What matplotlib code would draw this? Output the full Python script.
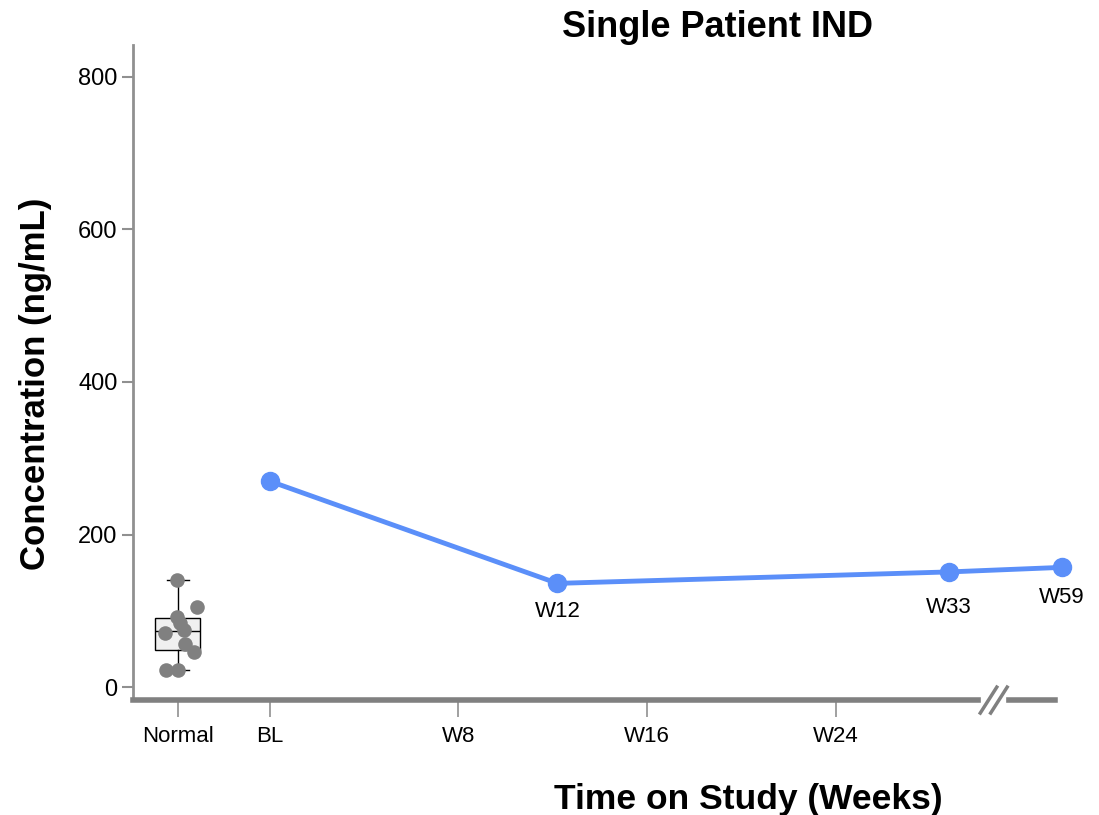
import matplotlib.pyplot as plt
from matplotlib.lines import Line2D

plt.rcParams['font.family'] = ['Liberation Sans', 'DejaVu Sans']

# x positions in "weeks" units (axis is broken after W24)
tick_pos = [-3.9, 0, 8, 16, 24]
tick_labels = ["Normal", "BL", "W8", "W16", "W24"]

visit_pos = [0, 12.2, 28.8, 33.6]
visit_labels = ["BL", "W12", "W33", "W59"]
visit_conc = [270, 136, 151, 157]
label_drop = [0, 13, 18, 14]  # points below marker

normal_vals = [140, 105, 92, 84, 75, 71, 56, 46, 23, 23]
normal_jit = [-0.05, 0.8, -0.05, 0.1, 0.25, -0.55, 0.3, 0.7, -0.5, 0.0]

fig = plt.figure(figsize=(10.99, 8.15), dpi=100)
ax = fig.add_axes([0.121, 0.141, 0.839, 0.804])

# normal range box
ax.boxplot([normal_vals], positions=[-3.9], widths=1.9, patch_artist=True,
           whis=(0, 100), showfliers=False,
           boxprops=dict(facecolor='#f0f0f0', edgecolor='black', linewidth=1),
           medianprops=dict(color='black', linewidth=1),
           whiskerprops=dict(color='black', linewidth=1),
           capprops=dict(color='black', linewidth=1), zorder=2)
ax.scatter([-3.9 + j for j in normal_jit], normal_vals, s=110, color='#808080',
           zorder=3, linewidths=0)

# patient line
ax.plot(visit_pos, visit_conc, color='#5b8ff9', lw=3.5, marker='o', ms=13,
        clip_on=False, zorder=4)
for x, y, lab, d in zip(visit_pos[1:], visit_conc[1:], visit_labels[1:], label_drop[1:]):
    ax.annotate(lab, (x, y), xytext=(0, -d), textcoords='offset points',
                ha='center', va='top', fontsize=16, annotation_clip=False)

ax.set_xlim(-5.8, 33.3)
ax.set_ylim(-17, 842)
ax.set_yticks([0, 200, 400, 600, 800])
ax.set_xticks(tick_pos)
ax.set_xticklabels(tick_labels)

for s in ['top', 'right']:
    ax.spines[s].set_visible(False)
ax.spines['left'].set_color('#909090')
ax.spines['left'].set_linewidth(2)
ax.spines['bottom'].set_color('#808080')
ax.spines['bottom'].set_linewidth(4)
ax.tick_params(axis='y', colors='#909090', labelcolor='black', labelsize=17,
               length=8, width=1.5, pad=3)
ax.tick_params(axis='x', colors='#909090', labelcolor='black', labelsize=16,
               length=12, width=1.2, pad=7)

# axis break marks
bx = 30.7
ax.plot([bx - 0.35, bx + 0.35], [-17, -17], color='white', lw=6,
        clip_on=False, zorder=5)
for dx in (-0.22, 0.22):
    ax.add_line(Line2D([bx + dx - 0.35, bx + dx + 0.35], [-34, 0], color='#808080',
                       lw=2.5, clip_on=False, zorder=6))

ax.set_title("Single Patient IND", fontsize=26, fontweight='bold', x=0.634, pad=4)
ax.set_xlabel("Time on Study (Weeks)", fontsize=25.5, fontweight='bold')
ax.xaxis.set_label_coords(0.667, -0.127)
ax.set_ylabel("Concentration (ng/mL)", fontsize=25, fontweight='bold')
ax.yaxis.set_label_coords(-0.088, 0.482)

fig.savefig("out.png", dpi=100)
